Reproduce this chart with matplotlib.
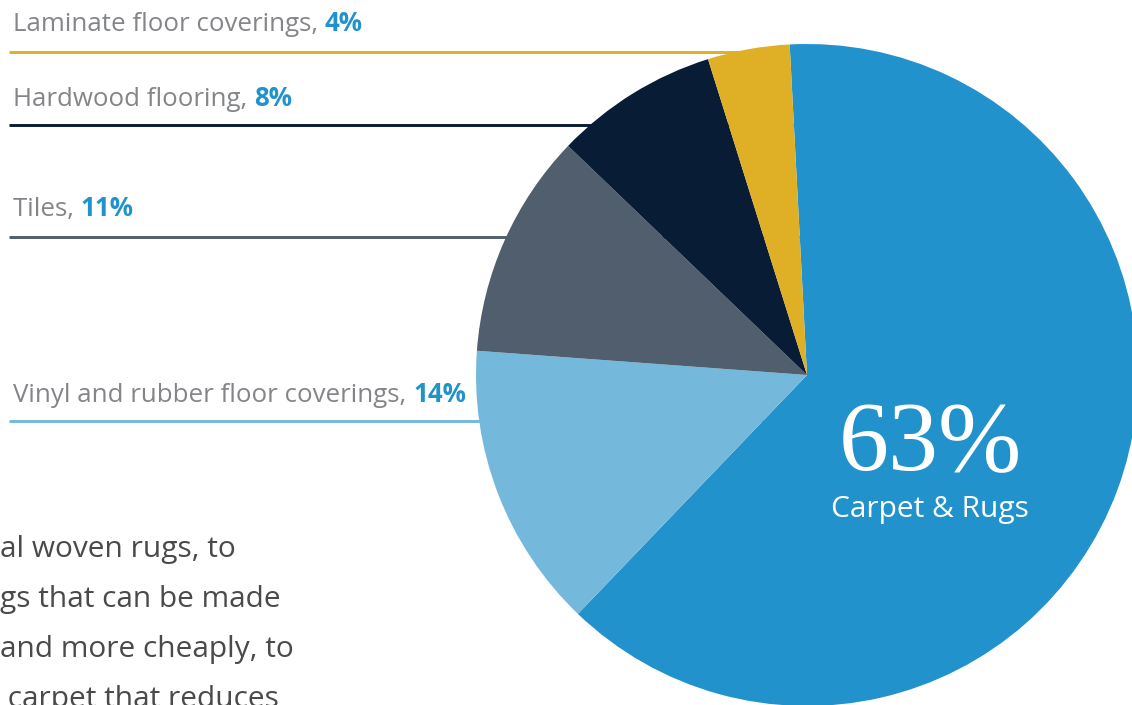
import matplotlib.pyplot as plt

# flooring market shares, %
categories = ['Carpet & Rugs', 'Vinyl and rubber floor coverings', 'Tiles',
              'Hardwood flooring', 'Laminate floor coverings']
shares = [63, 14, 11, 8, 4]
colors = ['#2292cd', '#74b9db', '#505e6e', '#081c36', '#dfaf25']

# body copy running beside the chart (cropped on the left)
body_lines = ['al woven rugs, to', 'gs that can be made',
              'and more cheaply, to', ' carpet that reduces']

W, H = 1132, 705
fig = plt.figure(figsize=(W / 100, H / 100), dpi=100)
ax = fig.add_axes([0, 0, 1, 1])

# pie centre and radius in pixels (y measured upward)
cx, cy, r = 807, H - 375, 331
wedges, _ = ax.pie(shares, colors=colors, startangle=93, counterclock=False,
                   center=(cx, cy), radius=r,
                   wedgeprops=dict(linewidth=0, antialiased=True))
for w in wedges:
    w.set_zorder(3)

ax.set_xlim(0, W)
ax.set_ylim(0, H)
ax.set_aspect('equal')
ax.axis('off')

label_font = 'Open Sans'
gray = '#838588'
blue = '#2292cd'

# label rows: (category index, text baseline, leader line y), pixels from top
rows = [(4, 31, 52), (3, 106, 125), (2, 216, 237), (1, 402, 421)]
for i, ty, ly in rows:
    ax.plot([9, cx], [H - ly, H - ly], color=colors[i], lw=2.1,
            solid_capstyle='butt', zorder=1)
    t = ax.text(13, H - ty, categories[i] + ', ', color=gray, fontsize=18.6,
                family=label_font, va='baseline', ha='left', zorder=4)
    ax.annotate(f'{shares[i]}%', xy=(1, H - ty), xycoords=(t, 'data'),
                color=blue, fontsize=18.6, fontweight='bold', family=label_font,
                va='baseline', ha='left', zorder=4)

# big figure for the leading slice
ax.text(930, H - 470, f'{shares[0]}%', color='white', fontsize=72,
        family='Liberation Serif', ha='center', va='baseline', zorder=5)
ax.text(930, H - 517, categories[0], color='white', fontsize=21.5,
        family=label_font, ha='center', va='baseline', zorder=5)

for k, line in enumerate(body_lines):
    ax.text(0, H - (557 + 50 * k), line, color='#4a4a4a', fontsize=21.5,
            family=label_font, ha='left', va='baseline', clip_on=False)

fig.savefig('out.png', dpi=100)
